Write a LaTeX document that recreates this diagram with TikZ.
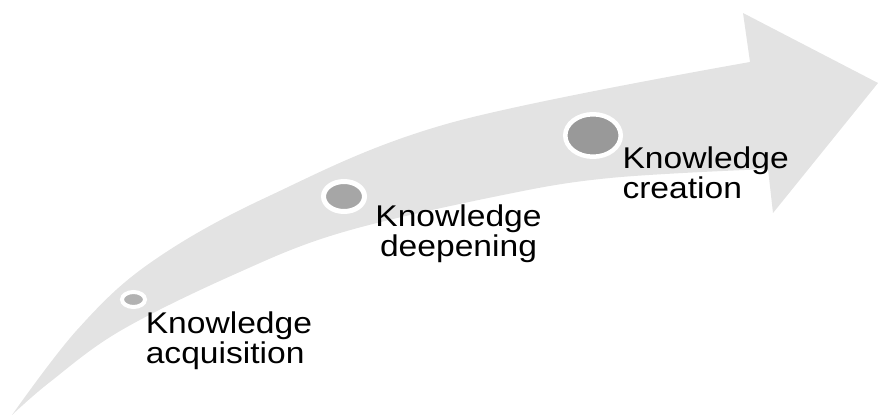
\documentclass[tikz,border=0pt]{standalone}
\usepackage{fontspec}
\newfontfamily\labfont{Liberation Sans}[FakeStretch=1.12]
\usetikzlibrary{shapes.geometric}
\definecolor{arrowgray}{HTML}{E3E3E3}
\definecolor{dotA}{HTML}{B2B2B2}
\definecolor{dotB}{HTML}{A6A6A6}
\definecolor{dotC}{HTML}{999999}
\tikzset{
  dot/.style={ellipse, draw=white, inner sep=0pt, outer sep=0pt},
  lab/.style={inner sep=0pt, outer sep=0pt, font=\labfont\fontsize{30pt}{30pt}\selectfont, text=black}
}
\begin{document}
\begin{tikzpicture}[x=1pt,y=-1pt]
\useasboundingbox (0,0) rectangle (878,417);
% curved arrow
\fill[arrowgray]
  plot[smooth, tension=0.6] coordinates {(12,415) (77,330) (150,263) (267,197) (450,123) (750,62)}
  -- (743,13) -- (878,83) -- (773,213)
  -- plot[smooth, tension=0.6] coordinates {(768,169) (610,178) (498,196) (340,233) (233,275) (120,331) (50,382) (12,415)}
  -- cycle;
% milestones
\node[dot, fill=dotA, line width=4pt, minimum width=23pt, minimum height=15pt] (c1) at (133.5,299.5) {};
\node[dot, fill=dotB, line width=5pt, minimum width=41pt, minimum height=30pt] (c2) at (344,196.5) {};
\node[dot, fill=dotC, line width=4.5pt, minimum width=55.5pt, minimum height=42.5pt] (c3) at (593,135.5) {};
% labels (anchor base = baseline of the last line)
\node[lab, anchor=base west, align=left] (l1) at (145.8,363.3) {Knowledge\\acquisition};
\node[lab, anchor=base, align=center] (l2) at (458.5,256.7) {Knowledge\\deepening};
\node[lab, anchor=base west, align=left] (l3) at (622.5,198.3) {Knowledge\\creation};
\end{tikzpicture}
\end{document}
